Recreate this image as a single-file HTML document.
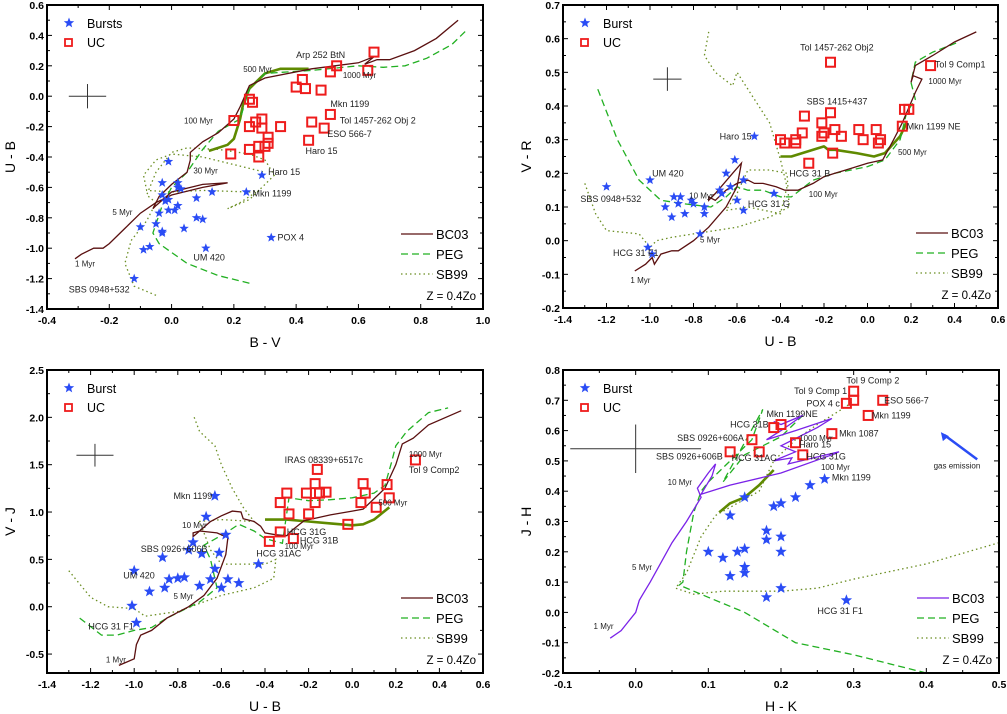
<!DOCTYPE html>
<html><head><meta charset="utf-8"><style>
html,body{margin:0;padding:0;background:#fff;}
svg{display:block;font-family:"Liberation Sans",Arial,sans-serif;}
</style></head><body>
<svg id="fig" width="1007" height="714" viewBox="0 0 1007 714"></svg>
<script>
// ---------- Panel 1 data (B-V vs U-B) ----------
const p1BurstX=[-0.01,-0.03,0.02,0.02,0.03,-0.03,-0.02,-0.01,0.13,0.08,0.24,0.29,-0.04,-0.01,0.01,0.02,0.08,0.10,-0.10,-0.05,-0.03,-0.03,0.04,-0.09,-0.07,0.11,0.32,-0.12];
const p1BurstY=[-0.43,-0.57,-0.57,-0.60,-0.61,-0.65,-0.69,-0.68,-0.63,-0.67,-0.63,-0.52,-0.77,-0.75,-0.75,-0.72,-0.80,-0.81,-0.86,-0.84,-0.89,-0.90,-0.87,-1.01,-0.99,-1.00,-0.93,-1.20];
const p1UcX=[0.65,0.53,0.51,0.63,0.42,0.40,0.43,0.48,0.25,0.26,0.51,0.45,0.49,0.44,0.20,0.25,0.27,0.29,0.29,0.35,0.31,0.31,0.28,0.30,0.25,0.28,0.19];
const p1UcY=[0.29,0.20,0.16,0.17,0.11,0.06,0.05,0.04,-0.02,-0.04,-0.12,-0.17,-0.21,-0.29,-0.16,-0.20,-0.17,-0.15,-0.21,-0.20,-0.27,-0.31,-0.33,-0.33,-0.35,-0.40,-0.38];
const p1Bc03=[[-0.31,-1.07],[-0.29,-1.04],[-0.25,-1.0],[-0.22,-1.0],[-0.2,-0.97],[-0.15,-0.87],[-0.1,-0.77],[-0.05,-0.7],[0,-0.65],[0.1,-0.6],[0.18,-0.57],[0.1,-0.58],[0,-0.63],[-0.05,-0.72],[-0.06,-0.74],[-0.04,-0.66],[0,-0.58],[0.05,-0.5],[0.06,-0.42],[0.06,-0.37],[0.1,-0.3],[0.15,-0.24],[0.2,-0.15],[0.22,-0.07],[0.25,0.07],[0.3,0.12],[0.45,0.18],[0.6,0.22],[0.65,0.26],[0.62,0.21],[0.66,0.24],[0.7,0.24],[0.78,0.3],[0.85,0.38],[0.92,0.5]];
const p1Peg=[[0.25,-1.23],[0.15,-1.18],[0.05,-1.1],[-0.04,-0.97],[-0.06,-0.9],[-0.03,-0.72],[0,-0.6],[0.05,-0.5],[0.1,-0.35],[0.15,-0.23],[0.22,-0.15],[0.25,0.05],[0.3,0.15],[0.45,0.17],[0.6,0.2],[0.68,0.19],[0.75,0.2],[0.82,0.25],[0.9,0.34],[0.95,0.44]];
const p1Sb99=[[-0.05,-1.31],[-0.12,-1.25],[-0.15,-1.1],[-0.13,-0.95],[-0.08,-0.82],[-0.05,-0.7],[-0.08,-0.65],[-0.05,-0.5],[0,-0.37],[0.05,-0.34],[0.15,-0.35],[0.25,-0.38],[0.3,-0.42],[0.33,-0.52],[0.3,-0.58],[0.25,-0.68],[0.18,-0.74],[0.22,-0.7],[0.28,-0.62],[0.25,-0.63],[0.1,-0.62],[0,-0.63],[-0.08,-0.62],[-0.09,-0.52],[-0.05,-0.42],[0,-0.38],[0.1,-0.4],[0.2,-0.45],[0.3,-0.5]];
const p1Old=[[0.12,-0.36],[0.18,-0.32],[0.2,-0.28],[0.22,-0.15],[0.23,-0.05],[0.25,0.05],[0.3,0.15],[0.35,0.18],[0.44,0.18]];
const p1Labels=[["1 Myr",-0.31,-1.12,8],["5 Myr",-0.19,-0.78,8],["30 Myr",0.07,-0.51,8],["100 Myr",0.04,-0.18,8],["500 Myr",0.23,0.16,8],["1000 Myr",0.55,0.12,8],["Arp 252 BtN",0.40,0.25,9],["Mkn 1199",0.51,-0.07,9],["Tol 1457-262 Obj 2",0.54,-0.18,9],["ESO 566-7",0.50,-0.27,9],["Haro 15",0.43,-0.38,9],["Haro 15",0.31,-0.52,9],["Mkn 1199",0.26,-0.66,9],["POX 4",0.34,-0.95,9],["UM 420",0.07,-1.08,9],["SBS 0948+532",-0.33,-1.29,9]];

// ---------- Panel 2 data (U-B vs V-R) ----------
const p2BurstX=[-1.2,-1.0,-0.89,-0.86,-0.87,-0.93,-0.9,-0.84,-0.81,-0.8,-0.75,-0.75,-0.68,-0.67,-0.65,-0.63,-0.61,-0.57,-0.6,-0.57,-0.52,-0.43,-0.77,-1.01,-0.99];
const p2BurstY=[0.16,0.18,0.13,0.13,0.11,0.10,0.07,0.08,0.12,0.11,0.10,0.08,0.15,0.14,0.20,0.16,0.24,0.18,0.12,0.09,0.31,0.14,0.02,-0.02,-0.04];
const p2UcX=[-0.17,0.29,-0.17,0.17,0.19,0.16,-0.29,-0.21,-0.3,-0.2,-0.21,-0.15,-0.12,-0.04,0.04,-0.02,0.06,0.05,-0.4,-0.38,-0.33,-0.33,-0.16,-0.27];
const p2UcY=[0.53,0.52,0.38,0.39,0.39,0.34,0.37,0.35,0.32,0.32,0.31,0.33,0.31,0.33,0.33,0.30,0.30,0.29,0.30,0.29,0.30,0.29,0.26,0.23];
const p2Bc03=[[-1.07,-0.09],[-1.02,-0.07],[-0.99,-0.05],[-0.98,-0.07],[-0.95,-0.04],[-0.9,-0.03],[-0.87,-0.03],[-0.8,0],[-0.73,0.04],[-0.65,0.1],[-0.6,0.16],[-0.58,0.23],[-0.62,0.2],[-0.7,0.14],[-0.73,0.12],[-0.73,0.13],[-0.7,0.12],[-0.65,0.15],[-0.6,0.17],[-0.55,0.18],[-0.52,0.17],[-0.48,0.17],[-0.42,0.16],[-0.38,0.15],[-0.32,0.15],[-0.25,0.17],[-0.2,0.19],[-0.15,0.2],[-0.1,0.21],[0,0.23],[0.07,0.24],[0.12,0.3],[0.16,0.35],[0.22,0.44],[0.25,0.48],[0.21,0.49],[0.2,0.47],[0.22,0.52],[0.3,0.55],[0.4,0.59],[0.5,0.62]];
const p2Peg=[[-1.24,0.45],[-1.15,0.3],[-1.05,0.18],[-0.95,0.12],[-0.85,0.11],[-0.72,0.1],[-0.65,0.13],[-0.6,0.16],[-0.55,0.15],[-0.48,0.15],[-0.4,0.13],[-0.35,0.13],[-0.25,0.18],[-0.15,0.2],[0,0.22],[0.08,0.24],[0.15,0.3],[0.18,0.38],[0.22,0.42],[0.2,0.47],[0.22,0.53],[0.3,0.56],[0.42,0.59]];
const p2Sb99=[[-1.3,0.17],[-1.25,0.08],[-1.2,0.03],[-1.05,0.02],[-1.0,-0.02],[-0.97,0],[-0.9,0.01],[-0.8,0.02],[-0.6,0.04],[-0.45,0.07],[-0.36,0.1],[-0.37,0.2],[-0.45,0.21],[-0.55,0.21],[-0.6,0.14],[-0.65,0.09],[-0.55,0.1],[-0.4,0.08],[-0.37,0.16],[-0.4,0.24],[-0.45,0.35],[-0.55,0.45],[-0.6,0.5],[-0.62,0.46],[-0.7,0.5],[-0.75,0.55],[-0.73,0.62]];
const p2Old=[[-0.4,0.25],[-0.35,0.25],[-0.25,0.27],[-0.2,0.28],[-0.18,0.27],[-0.15,0.27],[-0.05,0.26],[0.03,0.25],[0.08,0.26],[0.15,0.31],[0.18,0.35]];
const p2Labels=[["Tol 1457-262 Obj2",-0.31,0.565,9],["Tol 9 Comp1",0.31,0.515,9],["1000 Myr",0.28,0.465,8],["SBS 1415+437",-0.28,0.405,9],["Mkn 1199 NE",0.18,0.33,9],["500 Myr",0.14,0.255,8],["Haro 15",-0.68,0.30,9],["HCG 31 B",-0.36,0.19,9],["UM 420",-0.99,0.19,9],["10 Myr",-0.82,0.125,8],["100 Myr",-0.27,0.13,8],["HCG 31 G",-0.55,0.10,9],["SBS 0948+532",-1.32,0.115,9],["5 Myr",-0.77,-0.005,8],["HCG 31 F1",-1.17,-0.045,9],["1 Myr",-1.09,-0.125,8]];

// ---------- Panel 3 data (U-B vs V-J) ----------
const p3BurstX=[-0.63,-0.67,-0.58,-0.73,-0.75,-0.69,-0.61,-0.87,-0.63,-1.0,-0.43,-0.84,-0.8,-0.77,-0.65,-0.57,-0.7,-0.6,-0.52,-0.86,-0.93,-1.01,-0.99];
const p3BurstY=[1.17,0.95,0.76,0.68,0.60,0.56,0.57,0.52,0.40,0.38,0.45,0.29,0.30,0.31,0.29,0.29,0.22,0.20,0.25,0.20,0.16,0.01,-0.17];
const p3UcX=[-0.16,0.29,-0.17,0.05,0.16,-0.3,-0.21,-0.15,-0.12,0.06,0.17,-0.33,-0.17,0.04,0.11,-0.29,-0.2,-0.02,-0.33,-0.27,-0.38];
const p3UcY=[1.45,1.55,1.30,1.30,1.29,1.20,1.20,1.20,1.21,1.20,1.15,1.10,1.10,1.10,1.05,0.98,0.98,0.87,0.79,0.72,0.69];
const p3Bc03=[[-1.07,-0.62],[-1.03,-0.58],[-1.0,-0.55],[-0.99,-0.4],[-0.97,-0.3],[-0.92,-0.25],[-0.85,-0.12],[-0.75,0],[-0.68,0.12],[-0.62,0.3],[-0.58,0.55],[-0.57,0.73],[-0.62,0.78],[-0.7,0.8],[-0.73,0.78],[-0.73,0.74],[-0.7,0.8],[-0.65,0.9],[-0.6,0.96],[-0.55,1.01],[-0.51,1.0],[-0.5,0.93],[-0.45,0.9],[-0.42,0.85],[-0.4,0.78],[-0.35,0.76],[-0.3,0.75],[-0.28,0.8],[-0.22,0.91],[-0.18,0.93],[-0.1,0.97],[0,1.01],[0.05,1.03],[0.15,1.25],[0.2,1.5],[0.23,1.72],[0.28,1.78],[0.35,1.92],[0.5,2.07]];
const p3Peg=[[-1.25,-0.12],[-1.15,-0.3],[-1.08,-0.3],[-1.0,-0.25],[-0.92,-0.22],[-0.85,-0.12],[-0.7,0.05],[-0.62,0.2],[-0.65,0.5],[-0.68,0.65],[-0.58,0.78],[-0.52,0.87],[-0.45,0.8],[-0.4,0.72],[-0.32,0.67],[-0.29,1.15],[-0.2,1.12],[-0.1,1.13],[0,1.15],[0.1,1.2],[0.15,1.28],[0.18,1.52],[0.2,1.7],[0.25,1.85],[0.35,2.05],[0.44,2.1]];
const p3Sb99=[[-1.3,0.38],[-1.2,0.1],[-1.12,0],[-1.0,-0.02],[-0.95,-0.1],[-0.8,-0.05],[-0.6,0.12],[-0.45,0.2],[-0.36,0.3],[-0.35,0.5],[-0.4,0.45],[-0.5,0.45],[-0.6,0.45],[-0.65,0.6],[-0.7,0.9],[-0.6,0.92],[-0.45,0.9],[-0.5,1.05],[-0.55,1.25],[-0.6,1.5],[-0.63,1.7],[-0.7,1.85],[-0.73,2.03]];
const p3Old=[[-0.4,0.92],[-0.3,0.92],[-0.2,0.9],[-0.1,0.88],[0,0.86],[0.05,0.87],[0.1,0.92],[0.17,1.05]];
const p3Labels=[["IRAS 08339+6517c",-0.31,1.52,9],["1000 Myr",0.26,1.58,8],["Tol 9 Comp2",0.26,1.41,9],["Mkn 1199",-0.82,1.14,9],["500 Myr",0.12,1.07,8],["10 Myr",-0.78,0.83,8],["HCG 31G",-0.30,0.76,9],["HCG 31B",-0.24,0.67,9],["100 Myr",-0.31,0.61,8],["HCG 31AC",-0.44,0.53,9],["SBS 0926+606B",-0.97,0.58,9],["UM 420",-1.05,0.30,9],["5 Myr",-0.82,0.08,8],["HCG 31 F1",-1.21,-0.24,9],["1 Myr",-1.13,-0.59,8]];

// ---------- Panel 4 data (H-K vs J-H) ----------
const p4BurstX=[0.26,0.24,0.22,0.15,0.19,0.20,0.13,0.18,0.18,0.20,0.10,0.14,0.15,0.20,0.12,0.15,0.15,0.13,0.20,0.18,0.29];
const p4BurstY=[0.44,0.42,0.38,0.38,0.35,0.36,0.32,0.27,0.24,0.25,0.20,0.20,0.21,0.20,0.18,0.15,0.13,0.12,0.08,0.05,0.04];
const p4UcX=[0.30,0.30,0.29,0.34,0.32,0.19,0.20,0.27,0.16,0.22,0.23,0.13,0.17];
const p4UcY=[0.73,0.70,0.69,0.70,0.65,0.61,0.62,0.59,0.57,0.56,0.52,0.53,0.53];
const p4Bc03=[[-0.035,-0.085],[-0.02,-0.06],[-0.01,-0.03],[0,0],[0.005,0.04],[0.01,0.06],[0.02,0.1],[0.05,0.23],[0.07,0.3],[0.09,0.38],[0.085,0.41],[0.1,0.46],[0.11,0.49],[0.105,0.45],[0.09,0.39],[0.13,0.42],[0.2,0.46],[0.27,0.52],[0.28,0.53],[0.21,0.49],[0.215,0.51],[0.19,0.5],[0.22,0.53],[0.2,0.55],[0.25,0.61],[0.27,0.64],[0.22,0.6],[0.18,0.57],[0.2,0.6],[0.23,0.65],[0.2,0.62],[0.19,0.63]];
const p4Peg=[[0.4,-0.2],[0.3,-0.14],[0.22,-0.1],[0.15,0],[0.1,0.05],[0.06,0.09],[0.065,0.1],[0.07,0.2],[0.08,0.33],[0.09,0.4],[0.1,0.43],[0.13,0.5],[0.16,0.57],[0.175,0.67],[0.12,0.43],[0.15,0.52],[0.2,0.58],[0.23,0.65]];
const p4Sb99=[[0.5,0.23],[0.4,0.16],[0.3,0.11],[0.25,0.08],[0.2,0.07],[0.12,0.07],[0.08,0.06],[0.055,0.08],[0.07,0.13],[0.09,0.25],[0.11,0.32],[0.14,0.36],[0.17,0.4],[0.19,0.5],[0.22,0.57],[0.25,0.62],[0.29,0.68],[0.3,0.7]];
const p4Old=[[0.115,0.33],[0.13,0.36],[0.15,0.38],[0.17,0.42],[0.19,0.47]];
const p4Labels=[["Tol 9 Comp 2",0.29,0.755,9],["Tol 9 Comp 1",0.218,0.72,9],["POX 4 c",0.235,0.68,9],["ESO 566-7",0.342,0.69,9],["Mkn 1199NE",0.18,0.645,9],["Mkn 1199",0.325,0.64,9],["HCG 31B",0.13,0.61,9],["1000 Myr",0.225,0.566,8],["Mkn 1087",0.28,0.58,9],["SBS 0926+606A",0.057,0.565,9],["Haro 15",0.225,0.545,9],["SBS 0926+606B",0.028,0.505,9],["HCG 31AC",0.132,0.5,9],["HCG 31G",0.235,0.505,9],["100 Myr",0.255,0.47,8],["Mkn 1199",0.27,0.435,9],["10 Myr",0.044,0.42,8],["5 Myr",-0.005,0.14,8],["1 Myr",-0.058,-0.055,8],["HCG 31 F1",0.25,-0.005,9],["gas emission",0.41,0.475,8]];

const NS="http://www.w3.org/2000/svg";
const fig=document.getElementById('fig');
function mk(tag,attrs,parent){const e=document.createElementNS(NS,tag);for(const k in attrs)e.setAttribute(k,attrs[k]);(parent||fig).appendChild(e);return e;}
function starPath(cx,cy,r){let d='';for(let i=0;i<10;i++){const a=-Math.PI/2+i*Math.PI/5;const rr=i%2?r*0.42:r;d+=(i?'L':'M')+(cx+rr*Math.cos(a)).toFixed(1)+','+(cy+rr*Math.sin(a)).toFixed(1);}return d+'Z';}
function fmt(v){const s=v.toFixed(1);return s==='-0.0'?'0.0':s;}

function panel(cfg){
  const g=mk('g',{});
  
  
  const L=cfg.L,R=cfg.R,T=cfg.T,B=cfg.B;
  const sx=v=>L+(v-cfg.x0)/(cfg.x1-cfg.x0)*(R-L);
  const sy=v=>B-(v-cfg.y0)/(cfg.y1-cfg.y0)*(B-T);
  const clip='clip-'+cfg.name;
  const cp=mk('clipPath',{id:clip},g);mk('rect',{x:L,y:T,width:R-L,height:B-T},cp);
  const plot=mk('g',{'clip-path':'url(#'+clip+')'},g);
  
  
  // x ticks
  const hx=cfg.xs/2;
  for(let k=Math.ceil(cfg.x0/hx-1e-6);k<=Math.floor(cfg.x1/hx+1e-6);k++){const v=k*hx;const X=sx(v);const maj=(Math.abs(k)%2===0);const len=maj?5:3;
    mk('line',{x1:X,y1:B,x2:X,y2:B-len,stroke:'#000','stroke-width':1},g);
    mk('line',{x1:X,y1:T,x2:X,y2:T+len,stroke:'#000','stroke-width':1},g);
    if(maj){const t=mk('text',{x:X,y:B+15,'text-anchor':'middle','font-size':10.5,'font-weight':'bold'},g);t.textContent=fmt(v);
      
      }}
  const hy=cfg.ys/2;
  for(let k=Math.ceil(cfg.y0/hy-1e-6);k<=Math.floor(cfg.y1/hy+1e-6);k++){const v=k*hy;const Y=sy(v);const maj=(Math.abs(k)%2===0);const len=maj?5:3;
    mk('line',{x1:L,y1:Y,x2:L+len,y2:Y,stroke:'#000','stroke-width':1},g);
    mk('line',{x1:R,y1:Y,x2:R-len,y2:Y,stroke:'#000','stroke-width':1},g);
    if(maj){const t=mk('text',{x:L-3,y:Y+4,'text-anchor':'end','font-size':10.5,'font-weight':'bold'},g);t.textContent=fmt(v);
      
      }}
  mk('rect',{x:L,y:T,width:R-L,height:B-T,fill:'none',stroke:'#000','stroke-width':2},g);
  const xt=mk('text',{x:(L+R)/2,y:B+38,'text-anchor':'middle','font-size':14},g);xt.textContent=cfg.xl;
  
  
  const yt=mk('text',{x:0,y:0,'text-anchor':'middle','font-size':14,transform:`translate(${L-32},${(T+B)/2}) rotate(-90)`},g);yt.textContent=cfg.yl;
  
  
  const path=pts=>pts.map((p,i)=>(i?'L':'M')+sx(p[0]).toFixed(1)+','+sy(p[1]).toFixed(1)).join('');
  const old=mk('path',{d:path(cfg.old),fill:'none',stroke:'#5f8a00','stroke-width':2.6,'stroke-linejoin':'round'},plot);
  
  
  const sb=mk('path',{d:path(cfg.sb99),fill:'none',stroke:'#6b8e23','stroke-width':1.3,'stroke-dasharray':'1.5,3'},plot);
  
  
  const pg=mk('path',{d:path(cfg.peg),fill:'none',stroke:'#22b022','stroke-width':1.3,'stroke-dasharray':'7,4'},plot);
  
  
  const bc=mk('path',{d:path(cfg.bc03),fill:'none',stroke:cfg.bcColor,'stroke-width':1.3},plot);
  
  
  const c=cfg.cross;
  mk('line',{x1:sx(c[0]-c[2]),y1:sy(c[1]),x2:sx(c[0]+c[2]),y2:sy(c[1]),stroke:'#333','stroke-width':1},plot);
  const cv=mk('line',{x1:sx(c[0]),y1:sy(c[1]-c[3]),x2:sx(c[0]),y2:sy(c[1]+c[3]),stroke:'#333','stroke-width':1},plot);
  
  
  for(let i=0;i<cfg.bx.length;i++){const s=mk('path',{d:starPath(sx(cfg.bx[i]),sy(cfg.by[i]),cfg.sr),fill:'#2a4cf5'},plot);
    
    }
  for(let i=0;i<cfg.ux.length;i++){const q=mk('rect',{x:sx(cfg.ux[i])-4.5,y:sy(cfg.uy[i])-4.5,width:9,height:9,fill:'none',stroke:'#ee1c1c','stroke-width':2},plot);
    
    }
  for(const lb of cfg.labels){const t=mk('text',{x:sx(lb[1]),y:sy(lb[2]),'font-size':lb[3],fill:'#222'},plot);t.textContent=lb[0];
    
    }
  const lg=mk('g',{},g);
  
  
  mk('path',{d:starPath(L+22,T+18,5.5),fill:'#2a4cf5'},lg);
  let t=mk('text',{x:L+40,y:T+23,'font-size':12.5},lg);t.textContent=cfg.burstName;
  mk('rect',{x:L+18,y:T+34,width:7,height:7,fill:'none',stroke:'#ee1c1c','stroke-width':1.8},lg);
  t=mk('text',{x:L+40,y:T+42,'font-size':12.5},lg);t.textContent='UC';
  const rows=[['BC03',cfg.bcColor,''],['PEG','#22b022','7,4'],['SB99','#6b8e23','1.5,3']];
  rows.forEach((r,i)=>{const y=B-75+i*20;
    mk('line',{x1:R-82,y1:y,x2:R-50,y2:y,stroke:r[1],'stroke-width':1.3,'stroke-dasharray':r[2]||'none'},lg);
    const tt=mk('text',{x:R-47,y:y+5,'font-size':13},lg);tt.textContent=r[0];});
  t=mk('text',{x:R-7,y:B-9,'font-size':11.5,'text-anchor':'end'},lg);t.textContent='Z = 0.4Zo';
  return {sx,sy,plot};
}

panel({name:'panel-ub-bv',L:47,R:483,T:5,B:309,x0:-0.4,x1:1.0,xs:0.2,y0:-1.4,y1:0.6,ys:0.2,xl:'B - V',yl:'U - B',
  bx:p1BurstX,by:p1BurstY,ux:p1UcX,uy:p1UcY,bc03:p1Bc03,peg:p1Peg,sb99:p1Sb99,old:p1Old,labels:p1Labels,cross:[-0.27,0,0.06,0.08],bcColor:'#5a1010',sr:5,burstName:'Bursts'});
panel({name:'panel-vr-ub',L:563,R:998,T:5,B:308,x0:-1.4,x1:0.6,xs:0.2,y0:-0.2,y1:0.7,ys:0.1,xl:'U - B',yl:'V - R',
  bx:p2BurstX,by:p2BurstY,ux:p2UcX,uy:p2UcY,bc03:p2Bc03,peg:p2Peg,sb99:p2Sb99,old:p2Old,labels:p2Labels,cross:[-0.92,0.48,0.065,0.035],bcColor:'#5a1010',sr:5,burstName:'Burst'});
panel({name:'panel-vj-ub',L:47,R:483,T:370,B:673,x0:-1.4,x1:0.6,xs:0.2,y0:-0.7,y1:2.5,ys:0.5,xl:'U - B',yl:'V - J',
  bx:p3BurstX,by:p3BurstY,ux:p3UcX,uy:p3UcY,bc03:p3Bc03,peg:p3Peg,sb99:p3Sb99,old:p3Old,labels:p3Labels,cross:[-1.18,1.6,0.085,0.12],bcColor:'#5a1010',sr:6,burstName:'Burst'});
const p4=panel({name:'panel-jh-hk',L:563,R:999,T:370,B:673,x0:-0.1,x1:0.5,xs:0.1,y0:-0.2,y1:0.8,ys:0.1,xl:'H - K',yl:'J - H',
  bx:p4BurstX,by:p4BurstY,ux:p4UcX,uy:p4UcY,bc03:p4Bc03,peg:p4Peg,sb99:p4Sb99,old:p4Old,labels:p4Labels,cross:[0.0,0.54,0.09,0.08],bcColor:'#7a22e8',sr:6,burstName:'Burst'});
const ar=mk('line',{x1:p4.sx(0.47),y1:p4.sy(0.505),x2:p4.sx(0.425),y2:p4.sy(0.585),stroke:'#2a4cf5','stroke-width':2.5},p4.plot);


mk('path',{d:`M${p4.sx(0.42)},${p4.sy(0.595)} l2,9 l6,-5 z`,fill:'#2a4cf5'},p4.plot);
</script>
</body></html>
